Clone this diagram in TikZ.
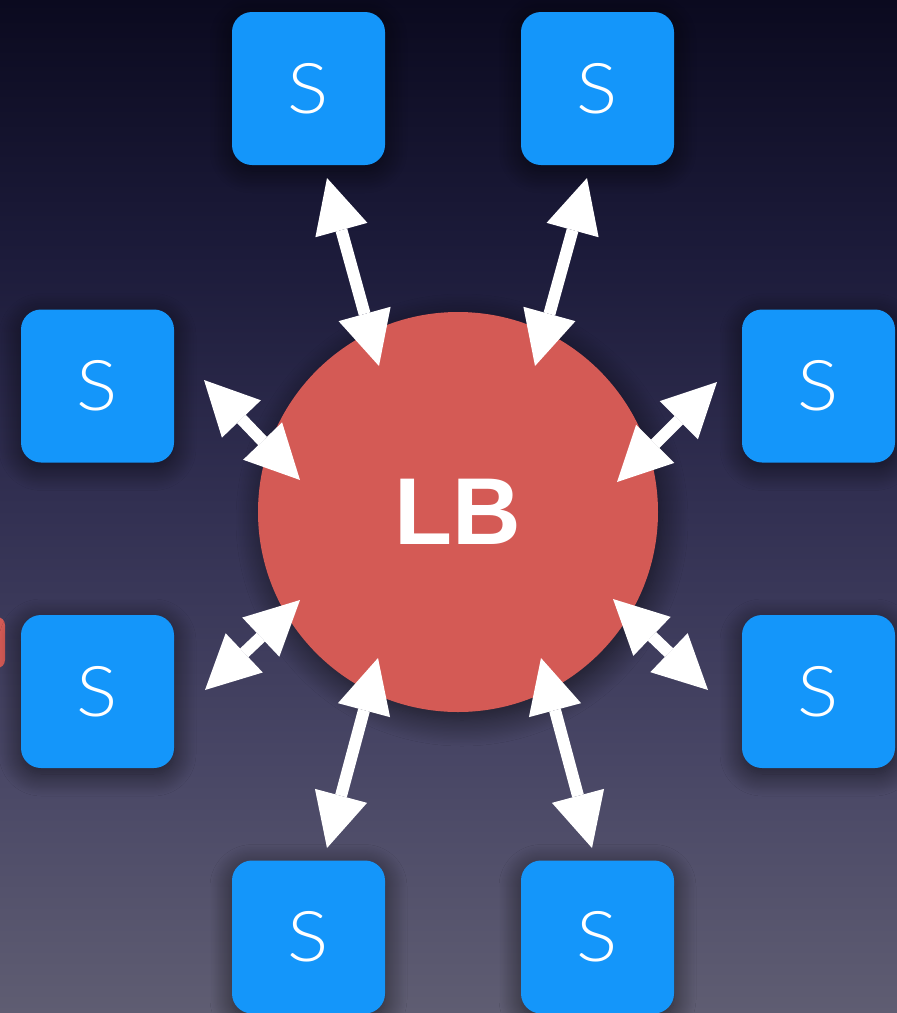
\documentclass[tikz,border=0pt]{standalone}
\usepackage{fontspec}
\setmainfont{Liberation Sans}
\newfontfamily\thinfont{Lato Light}[FakeStretch=1.1]
\usetikzlibrary{arrows.meta,shadows.blur}
\definecolor{sblue}{HTML}{1496FA}
\definecolor{lbred}{HTML}{D45A55}
\definecolor{bgA}{HTML}{0B0A1F}
\definecolor{bgB}{HTML}{1C1B3A}
\definecolor{bgC}{HTML}{323052}
\definecolor{bgD}{HTML}{484665}
\definecolor{bgE}{HTML}{5F5D72}
\pgfdeclareverticalshading{bgshade}{100bp}{color(0bp)=(bgE); color(25bp)=(bgE); color(37.5bp)=(bgD); color(50bp)=(bgC); color(62.5bp)=(bgB); color(75bp)=(bgA); color(100bp)=(bgA)}
\tikzset{
  sbox/.style={rectangle, rounded corners=20pt, minimum width=153pt, minimum height=153pt,
    inner sep=0pt, fill=sblue, text=white, font=\thinfont\fontsize{70}{70}\selectfont,
    blur shadow={shadow xshift=0pt, shadow yshift=-6pt, shadow blur radius=22pt, shadow opacity=60, shadow blur steps=20}},
  lbnode/.style={circle, minimum size=400pt, inner sep=0pt, fill=lbred, text=white,
    font=\bfseries\fontsize{95}{95}\selectfont,
    blur shadow={shadow xshift=4pt, shadow yshift=-8pt, shadow blur radius=26pt, shadow opacity=60, shadow blur steps=20}},
  biarrow/.style={draw=white, line width=12pt,
    {Triangle[length=54pt,width=54pt,line width=0pt]}-{Triangle[length=54pt,width=54pt,line width=0pt]}}
}
\begin{document}
\begin{tikzpicture}[x=1pt,y=-1pt]
\useasboundingbox (0,0) rectangle (897,1013);
\begin{scope}
\clip (0,0) rectangle (897,1013);
\shade[shading=bgshade] (0,0) rectangle (897,1013);
\fill[lbred, rounded corners=8pt] (-40,617) rectangle (5,668);

\node[lbnode] (lb) at (458,512) {LB};

\node[sbox] (s1) at (308.5,88.5) {S};
\node[sbox] (s2) at (597.5,88.5) {S};
\node[sbox] (s3) at (97.5,386) {S};
\node[sbox] (s4) at (818.5,386) {S};
\node[sbox] (s5) at (97.5,691.5) {S};
\node[sbox] (s6) at (818.5,691.5) {S};
\node[sbox] (s7) at (308.5,937) {S};
\node[sbox] (s8) at (597.5,937) {S};

\coordinate (a1o) at (327,178); \coordinate (a1i) at (379,366);
\coordinate (a2o) at (587,178); \coordinate (a2i) at (535,366);
\coordinate (a3o) at (204,380); \coordinate (a3i) at (300,480);
\coordinate (a4o) at (717,382); \coordinate (a4i) at (617,482);
\coordinate (a5o) at (205,690); \coordinate (a5i) at (300,600);
\coordinate (a6o) at (708,690); \coordinate (a6i) at (613,599);
\coordinate (a7o) at (327,848); \coordinate (a7i) at (378,658);
\coordinate (a8o) at (592,848); \coordinate (a8i) at (541,658);

\draw[biarrow] (a1o) -- (a1i);
\draw[biarrow] (a2o) -- (a2i);
\draw[biarrow] (a3o) -- (a3i);
\draw[biarrow] (a4o) -- (a4i);
\draw[biarrow] (a5o) -- (a5i);
\draw[biarrow] (a6o) -- (a6i);
\draw[biarrow] (a7o) -- (a7i);
\draw[biarrow] (a8o) -- (a8i);
\end{scope}
\end{tikzpicture}
\end{document}
